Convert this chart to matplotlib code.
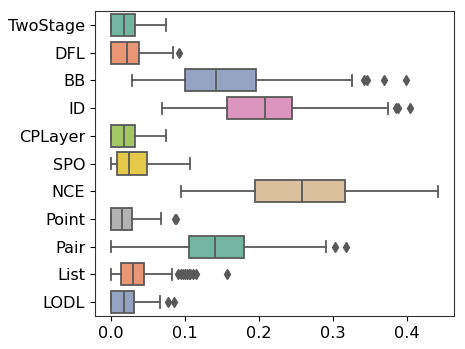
import numpy as np
import matplotlib
matplotlib.use('Agg')
import matplotlib.pyplot as plt
import seaborn as sns

methods = ['TwoStage', 'DFL', 'BB', 'ID', 'CPLayer', 'SPO', 'NCE',
           'Point', 'Pair', 'List', 'LODL']
whislo = [0.0, 0.0, 0.028, 0.069, 0.0, 0.0, 0.094, 0.0, 0.0, 0.0, 0.0]
q1 = [0.0, 0.0, 0.100, 0.156, 0.0, 0.008, 0.195, 0.0, 0.105, 0.013, 0.0]
med = [0.018, 0.021, 0.142, 0.208, 0.018, 0.024, 0.258, 0.015, 0.140, 0.029, 0.017]
q3 = [0.032, 0.037, 0.196, 0.245, 0.032, 0.049, 0.316, 0.028, 0.179, 0.044, 0.031]
whishi = [0.074, 0.084, 0.325, 0.374, 0.074, 0.107, 0.442, 0.068, 0.290, 0.082, 0.066]
fliers = [
    [],
    [0.092],
    [0.342, 0.345, 0.369, 0.399],
    [0.385, 0.388, 0.404],
    [],
    [],
    [],
    [0.086, 0.088],
    [0.302, 0.317],
    [0.091, 0.094, 0.097, 0.100, 0.103, 0.105, 0.107, 0.110, 0.115, 0.157],
    [0.077, 0.085],
]


def main():
    colors = sns.color_palette('Set2', desat=0.75)
    line_c = '#595959'

    stats = []
    for i, m in enumerate(methods):
        stats.append(dict(label=m, whislo=whislo[i], q1=q1[i], med=med[i],
                          q3=q3[i], whishi=whishi[i], fliers=fliers[i]))

    fig = plt.figure(figsize=(4.65, 3.49), dpi=100)
    ax = fig.add_axes([0.204, 0.095, 0.772, 0.873])

    lp = dict(color=line_c, linewidth=1.3)
    bp = ax.bxp(stats, positions=np.arange(len(methods)), widths=0.8,
                orientation='horizontal', patch_artist=True,
                boxprops=dict(edgecolor=line_c, linewidth=1.3),
                medianprops=lp, whiskerprops=lp, capprops=lp,
                flierprops=dict(marker='d', markersize=5,
                                markerfacecolor=line_c,
                                markeredgecolor=line_c, linestyle='none'))
    for i, b in enumerate(bp['boxes']):
        b.set_facecolor(colors[i % len(colors)])

    ax.set_ylim(len(methods) - 0.5, -0.5)
    ax.set_xlim(-0.022, 0.463)
    ax.set_xticks([0.0, 0.1, 0.2, 0.3, 0.4])
    ax.set_xticklabels(['0.0', '0.1', '0.2', '0.3', '0.4'])
    ax.tick_params(labelsize=11.6)
    for s in ax.spines.values():
        s.set_color('#333333')

    fig.savefig('out.png', dpi=100)


if __name__ == '__main__':
    main()
